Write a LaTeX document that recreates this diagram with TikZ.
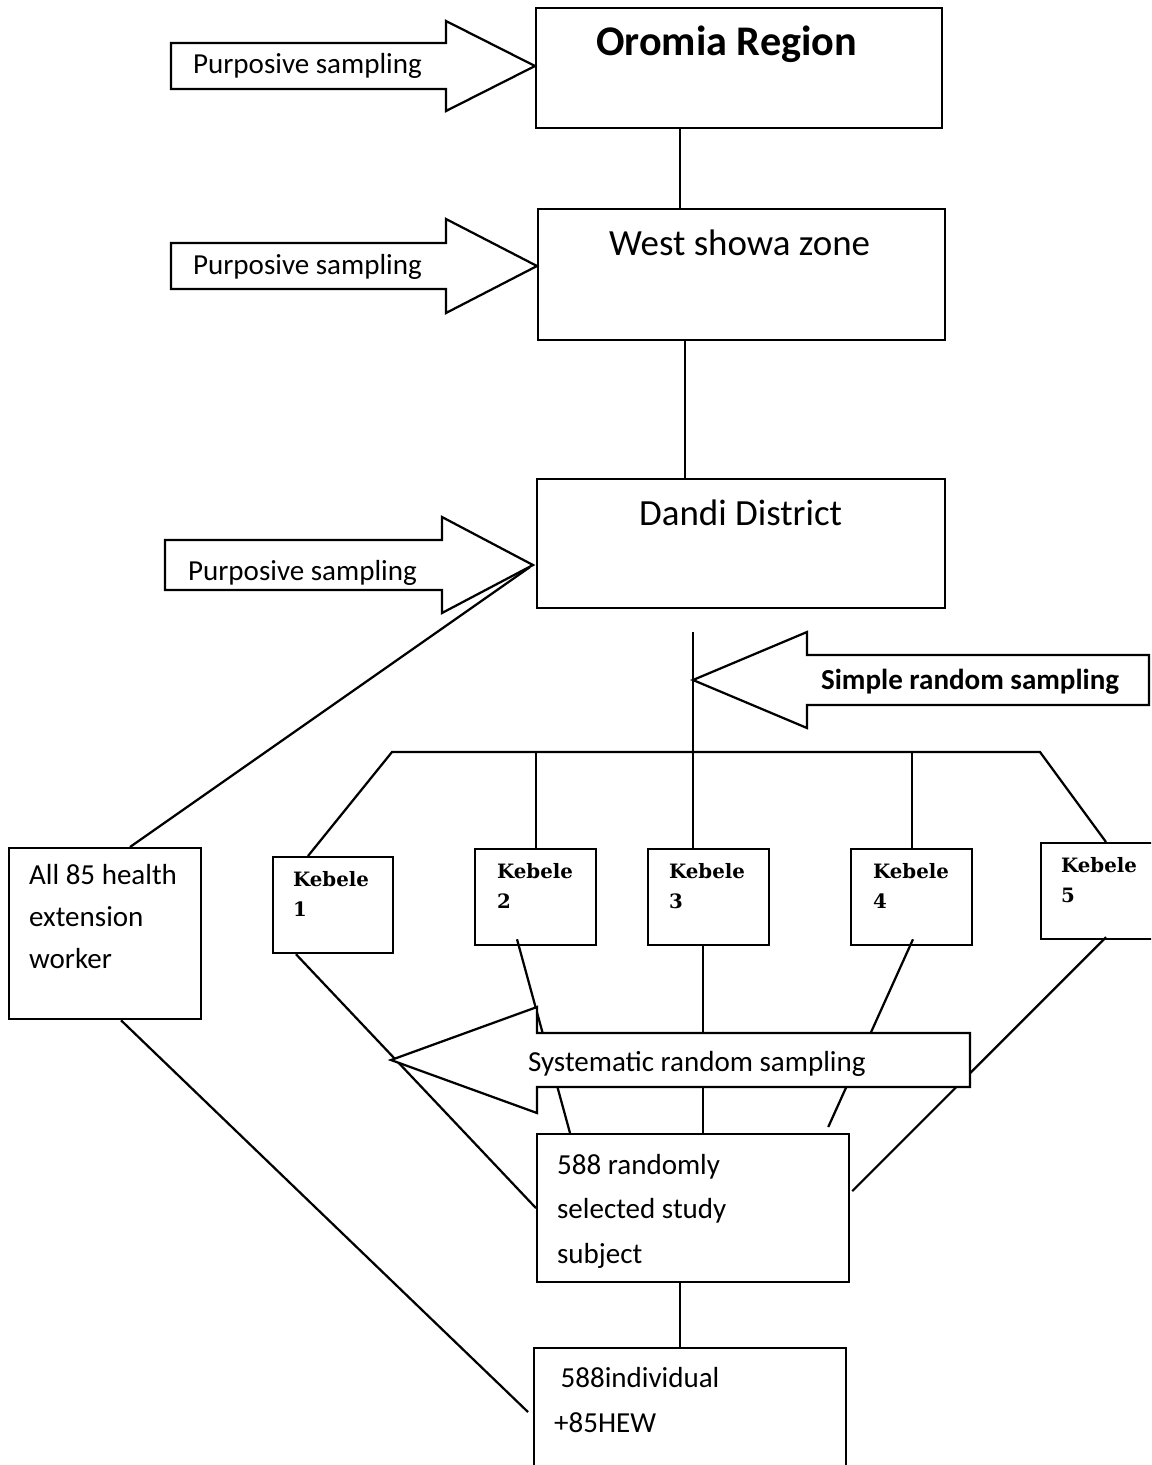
\documentclass[tikz,border=0pt]{standalone}
\usepackage{fontspec}
\setmainfont{Carlito}
\newfontfamily\kebelefont{DejaVu Serif}
\usetikzlibrary{calc}
\newcommand{\px}{0.379pt}
\newcommand{\BlockArrow}[7]{
\coordinate (#1) at (#2,#3); % tip of the arrow
\draw[blockarrow] (#5,#3-#7) -- (#4,#3-#7) -- (#4,#3-#6) -- (#1) -- (#4,#3+#6) -- (#4,#3+#7) -- (#5,#3+#7) -- cycle;
}

\begin{document}
\begin{tikzpicture}[x=0.379pt, y=-0.379pt, line width=0.85pt,
box/.style={draw, inner sep=0, anchor=north west},
blockarrow/.style={draw, fill=white, line join=miter},
sampletext/.style={inner sep=0, anchor=base west, font=\fontsize{11}{16}\selectfont},
boxtitle/.style={inner sep=0, anchor=base west, font=\fontsize{14}{17}\selectfont},
kebeletext/.style={inner sep=0, anchor=base west, align=left, font=\kebelefont\bfseries\fontsize{7.5}{11}\selectfont},
boxtext/.style={inner sep=0, anchor=base west, align=left}]
%%%%%%%% SIZE OF THE PICTURE %%%%%%%%
\useasboundingbox (0,0) rectangle (1151,1465);
\clip (0,0) rectangle (1151,1465);
%%%%%%%% BOXES %%%%%%%%
\node[box, minimum width=406*\px, minimum height=120*\px] (oromia) at (535,7) {};
\node[box, minimum width=407*\px, minimum height=131*\px] (westshowa) at (537,208) {};
\node[box, minimum width=408*\px, minimum height=129*\px] (dandi) at (536,478) {};
\node[box, minimum width=120*\px, minimum height=96*\px] (k1) at (272,856) {};
\node[box, minimum width=121*\px, minimum height=96*\px] (k2) at (474,848) {};
\node[box, minimum width=121*\px, minimum height=96*\px] (k3) at (647,848) {};
\node[box, minimum width=121*\px, minimum height=96*\px] (k4) at (850,848) {};
\node[box, minimum width=140*\px, minimum height=96*\px] (k5) at (1040,842) {};
\node[box, minimum width=192*\px, minimum height=171*\px] (hew) at (8,847) {};
\node[box, minimum width=312*\px, minimum height=148*\px] (subjects) at (536,1133) {};
\node[box, minimum width=312*\px, minimum height=160*\px] (total) at (533,1347) {};
%%%%%%%% LINKS %%%%%%%%
\coordinate (spine1) at (680,0);
\coordinate (spine2) at (685,0);
\coordinate (trunk) at (693,632);
\coordinate (barL) at (392,752);
\coordinate (barR) at (1040,752);
\draw (spine1 |- oromia.south) -- (spine1 |- westshowa.north);
\draw (spine2 |- westshowa.south) -- (spine2 |- dandi.north);
\draw (trunk) -- (trunk |- k3.north);
\draw ($(k1.north west)+(36,0)$) -- (barL) -- (barR) -- ($(k5.north west)+(66,0)$);
\draw (k2.north) -- (k2.north |- barL);
\draw (k4.north) -- (k4.north |- barL);
\draw ($(k1.south west)+(24,0)$) -- (subjects.west);
\draw ($(k2.south west)+(43,-7)$) -- ($(subjects.north west)+(34,0)$);
\draw ($(k3.south west)+(56,0)$) -- ($(subjects.north west)+(167,0)$);
\draw ($(k4.south west)+(63,-7)$) -- ($(subjects.north east)+(-22,-6)$);
\draw ($(k5.south west)+(66,-3)$) -- ($(subjects.east)+(2,-17)$);
\draw (spine1 |- subjects.south) -- (spine1 |- total.north);
\draw ($(hew.north west)+(122,0)$) -- (530,567);
\draw ($(hew.south west)+(113,0)$) -- ($(total.north west)+(-5,65)$);
%%%%%%%% BLOCK ARROWS %%%%%%%%
\BlockArrow{pur1}{535}{66}{446}{171}{45}{23}
\BlockArrow{pur2}{537}{266}{446}{171}{47}{23}
\BlockArrow{pur3}{533}{565}{442}{165}{48}{25}
\BlockArrow{simple}{693}{680}{807}{1149}{48}{25}
\BlockArrow{systematic}{391}{1060}{537}{970}{53}{27}
%%%%%%%% TEXT %%%%%%%% (base of a two-line node = its last line)
\node[inner sep=0, anchor=base west, font=\bfseries\fontsize{16}{19}\selectfont] (oromiat) at (595,55) {Oromia Region};
\node[boxtitle] (westshowat) at (608,255) {West showa zone};
\node[boxtitle] (dandit) at (638,525) {Dandi District};
\node[sampletext] (pur1t) at (192,73) {Purposive sampling};
\node[sampletext] (pur2t) at (192,274) {Purposive sampling};
\node[sampletext] (pur3t) at (187,580) {Purposive sampling};
\node[sampletext, font=\bfseries\fontsize{11}{16}\selectfont] (simplet) at (820,689) {Simple random sampling};
\node[sampletext] (systematict) at (527,1071) {Systematic random sampling};
\node[kebeletext] (k1t) at (292,916) {Kebele\\1};
\node[kebeletext] (k2t) at (496,908) {Kebele\\2};
\node[kebeletext] (k3t) at (668,908) {Kebele\\3};
\node[kebeletext] (k4t) at (872,908) {Kebele\\4};
\node[kebeletext] (k5t) at (1060,902) {Kebele\\5};
\node[boxtext, font=\fontsize{11}{15.8}\selectfont] (hewt) at (28,968) {All 85 health\\extension\\worker};
\node[boxtext, font=\fontsize{11}{16.7}\selectfont] (subjectst) at (556,1263) {588 randomly\\selected study\\subject};
\node[boxtext, font=\fontsize{11}{17}\selectfont] (totalt) at (553,1432) {\ 588individual\\+85HEW};
\end{tikzpicture}
\end{document}
